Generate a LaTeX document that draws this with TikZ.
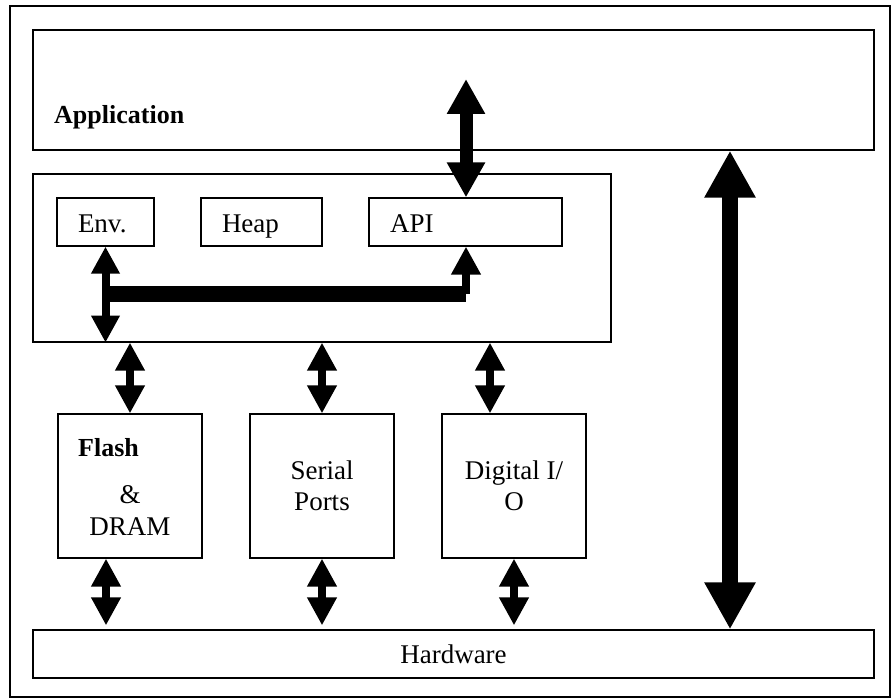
\documentclass[tikz,border=0pt]{standalone}
\usepackage{fontspec}
\setmainfont{Liberation Serif}
\usetikzlibrary{arrows.meta}

\begin{document}
\begin{tikzpicture}[x=1pt, y=-1pt,
		box_style/.style={draw=black, line width=1.2pt, inner sep=0pt, font=\fontsize{27}{31}\selectfont},
		item_style/.style={box_style, minimum height=48pt, inner xsep=21pt, align=left, text height=21pt, text depth=0pt},
		label_style/.style={inner sep=0pt, font=\fontsize{27}{31}\selectfont},
		title_style/.style={inner sep=0pt, font=\fontsize{26}{30}\selectfont\bfseries},
		link_style/.style={line width=8pt, >={Triangle[width=28pt,length=28pt]}, <->},
		wide_link_style/.style={line width=13pt, >={Triangle[width=36pt,length=35pt]}, <->},
		bus_link_style/.style={line width=48pt/3, >={Triangle[width=48pt,length=47pt]}, <->}]

		\useasboundingbox (0,0) rectangle (893,700);

		% boxes
		\node[box_style, minimum width=880pt, minimum height=691pt] (frame) at (450,351.5) {};
		\node[box_style, minimum width=841pt, minimum height=120pt] (app) at (453.5,90) {};
		\node[title_style, anchor=base west] (app_text) at (54,124) {Application};
		\node[box_style, minimum width=578pt, minimum height=168pt] (mid) at (322,258) {};
		\node[item_style, text width=55pt] (env) at (105.5,222) {Env.};
		\node[item_style, text width=79pt] (heap) at (261.5,222) {Heap};
		\node[item_style, text width=151pt] (api) at (465.5,222) {API};
		\node[box_style, minimum width=144pt, minimum height=144pt] (flash) at (130,486) {};
		\node[title_style, anchor=base west] (flash_text) at (78,456) {Flash};
		\node[label_style, anchor=base] (and_text) at (130,503) {\&};
		\node[label_style, anchor=base] (dram_text) at (130,535) {DRAM};
		\node[box_style, minimum width=144pt, minimum height=144pt, align=center] (serial) at (322,486) {Serial\\Ports};
		\node[box_style, minimum width=144pt, minimum height=144pt, align=center] (digital) at (514,486) {Digital I/\\O};
		\node[box_style, minimum width=841pt, minimum height=48pt] (hw) at (453.5,654) {Hardware};

		\coordinate (app_tip) at (466,79);
		\coordinate (bus_l) at (106,294);
		\coordinate (bus_r) at (466,294);
		\coordinate (side) at (730,0);

		% links
		\draw[wide_link_style] (app_tip) -- (app_tip |- api.north);
		\draw[link_style, >={Triangle[width=27pt,length=27pt]}] (env.south) -- (env.south |- mid.south);
		\draw[line width=16pt] (bus_l) -- (bus_r);
		\draw[link_style, <-] (bus_r |- api.south) -- (bus_r);
		\draw[bus_link_style] (side |- app.south) -- (side |- hw.north);

		\draw[link_style] (flash.north |- mid.south) -- (flash.north);
		\draw[link_style] (serial.north |- mid.south) -- (serial.north);
		\draw[link_style] ([xshift=-24pt]digital.north |- mid.south) -- ([xshift=-24pt]digital.north);

		\draw[link_style, shorten >=4pt] ([xshift=-24pt]flash.south) -- ([xshift=-24pt]flash.south |- hw.north);
		\draw[link_style, shorten >=4pt] (serial.south) -- (serial.south |- hw.north);
		\draw[link_style, shorten >=4pt] (digital.south) -- (digital.south |- hw.north);

\end{tikzpicture}
\end{document}
